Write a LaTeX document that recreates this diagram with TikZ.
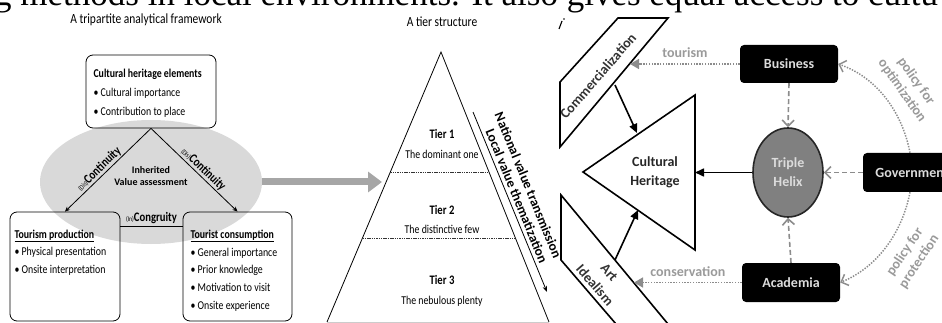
\documentclass[tikz,border=0pt]{standalone}
\usepackage{fontspec}
\setmainfont{Carlito}
\newfontfamily\narrowfont[FakeStretch=0.82]{Carlito}
\newfontfamily\pageserif{Liberation Serif}
\usetikzlibrary{arrows.meta,shapes.geometric,calc}

\definecolor{ellgrey}{HTML}{D9D9D9}
\definecolor{bigarrow}{HTML}{A6A6A6}
\definecolor{linkgrey}{HTML}{8C8C8C}
\definecolor{helixgrey}{HTML}{808080}
\definecolor{labelgrey}{HTML}{9A9A9A}
\definecolor{boxtext}{HTML}{DCDCDC}

\begin{document}
\begin{tikzpicture}[x=1pt,y=-1pt,
  rbox/.style={draw, rounded corners=7pt, line width=0.8pt, inner sep=0pt},
  nf/.style={font=\narrowfont\fontsize{12}{#1}\selectfont},
  nf/.default=18,
  thinarrow/.style={line width=0.8pt, -{Stealth[length=5pt,width=4.5pt]}},
  tierdash/.style={line width=0.7pt, dash pattern=on 1.5pt off 0.8pt, black!80},
  shapeline/.style={line width=1.6pt},
  blackarrow/.style={line width=1.6pt, -{Triangle[length=9pt,width=8pt]}},
  dashlink/.style={linkgrey, line width=1.6pt, dash pattern=on 5pt off 3pt, -{Straight Barb[length=6pt,width=12pt]}},
  dotlink/.style={linkgrey, line width=1.5pt, dash pattern=on 1.4pt off 1.4pt},
  actor/.style={fill=black, rounded corners=4pt, inner sep=0pt, font=\bfseries\fontsize{14}{14}\selectfont, text=boxtext},
  greylabel/.style={text=labelgrey, font=\bfseries\fontsize{14}{17}\selectfont, align=center},
  slantlabel/.style={font=\bfseries\fontsize{13.5}{13.5}\selectfont, inner sep=0pt, rotate=-67.65},
]
\useasboundingbox (0,0) rectangle (942,323);
\clip (0,0) rectangle (942,323);

% running text of the page above the figure
\node[anchor=base west, inner sep=0pt, font=\pageserif\fontsize{35}{35}\selectfont] (pagetext) at (-6,6)
  {g methods in local environments. It also gives equal access to cultu};

% ---------------- tripartite framework ----------------
\node[font=\narrowfont\fontsize{14}{14}\selectfont] (lefttitle) at (146,20) {A tripartite analytical framework};

\node[ellipse, fill=ellgrey, minimum width=222pt, minimum height=124pt, inner sep=0pt] (ell) at (151,182) {};

\node[rbox, minimum width=130pt, minimum height=73pt] (che) at (151,91.5) {};
\node[rbox, minimum width=110pt, minimum height=109pt] (tp) at (65,266.5) {};
\node[rbox, minimum width=109pt, minimum height=109pt] (tc) at (237.5,266.5) {};

\node[nf=19, anchor=west, align=left] (chetext) at (90,93)
  {\textbf{Cultural heritage elements}\\• Cultural importance\\• Contribution to place};
\node[nf=17.5, anchor=west, align=left] (tptext) at (11,252.5)
  {\underline{\textbf{Tourism production}}\\• Physical presentation\\• Onsite interpretation};
\node[nf=17.7, anchor=west, align=left] (tctext) at (187,270.5)
  {\underline{\textbf{Tourist consumption}}\\• General importance\\• Prior knowledge\\• Motivation to visit\\• Onsite experience};

\node[nf=17, font=\bfseries, align=center] (inherit) at (151,176.5) {Inherited\\Value assessment};

\draw[thinarrow] (che.south) -- (tp.north)
  node[pos=0.55, sloped, above=0pt, nf, inner sep=1pt] {{\fontsize{7}{7}\selectfont(Dis)}\textbf{\fontsize{13}{13}\selectfont Continuity}};
\draw[thinarrow] (che.south) -- (tc.north)
  node[pos=0.55, sloped, above=0pt, nf, inner sep=1pt] {{\fontsize{7}{7}\selectfont(Dis)}\textbf{\fontsize{13}{13}\selectfont Continuity}};
\draw[line width=0.8pt] ([yshift=-15pt]tp.north east) -- ([yshift=-15pt]tc.north west)
  node[midway, above=1pt, nf, inner sep=1pt] {{\fontsize{7}{7}\selectfont(In)}\textbf{\fontsize{13}{13}\selectfont Congruity}};

% ---------------- tier structure ----------------
\node[font=\narrowfont\fontsize{14}{14}\selectfont] (midtitle) at (442,22) {A tier structure};

\coordinate (apex) at (441,52);
\coordinate (bl) at (327,322);
\coordinate (br) at (549,322);
\draw[line width=0.8pt] (bl) -- (apex) -- (br);
\draw[black!20, line width=0.8pt] (bl) -- (br);
\draw[tierdash] ($(apex)!0.4444!(bl)$) -- ($(apex)!0.4444!(br)$);
\draw[tierdash] ($(apex)!0.6889!(bl)$) -- ($(apex)!0.6889!(br)$);

\node[nf=19.5, align=center] (tier1) at (442,144) {\textbf{\fontsize{13}{13}\selectfont Tier 1}\\The dominant one};
\node[nf=19.5, align=center] (tier2) at (442,219.5) {\textbf{\fontsize{13}{13}\selectfont Tier 2}\\The distinctive few};
\node[nf=19.5, align=center] (tier3) at (442,291) {\textbf{\fontsize{13}{13}\selectfont Tier 3}\\The nebulous plenty};

\draw[bigarrow, line width=7pt, -{Triangle[length=14pt,width=20pt]}] (ell.east) -- (382,182);

\coordinate (sa) at (473,112);
\coordinate (sb) at (547,292);
\draw[line width=0.8pt, -{Stealth[length=6pt,width=4.5pt]}] (sa) -- (sb);
\node[slantlabel] (natval) at (528.3,185.1) {National value transmission};
\node[slantlabel] (locval) at (516.8,195.9) {Local value thematization};

% ---------------- triple helix ----------------
\draw[line width=1.1pt] (562,21) -- (559,29);
\fill (564,19) circle (0.9pt);

\coordinate (ca) at (618,18);
\coordinate (cb) at (668,18);
\coordinate (cc) at (560,147);
\coordinate (cd) at (560,82);
\draw[shapeline, line join=miter] (ca) -- (cb) -- (cc) -- (cd) -- cycle;
\node[rotate=49, font=\bfseries\fontsize{14}{14}\selectfont, text=black!80] (comm) at (598,76) {Commercialization};

\coordinate (aa) at (561,195);
\coordinate (ab) at (561,260);
\coordinate (ac) at (616,324);
\coordinate (ad) at (668,324);
\draw[shapeline] (ac) -- (ab) -- (aa) -- (ad);
\node[rotate=-49, align=center, font=\bfseries\fontsize{14}{19}\selectfont, text=black!80] (art) at (602,279) {Art\\Idealism};

\coordinate (ht) at (695,95);
\coordinate (hl) at (583,172);
\coordinate (hb) at (695,250);
\draw[shapeline, line join=miter] (ht) -- (hl) -- (hb) -- cycle;
\node[align=center, font=\bfseries\fontsize{14}{19}\selectfont, text=black!85] (ch) at (655,172.5) {Cultural\\Heritage};

\node[ellipse, draw=black!85, line width=1.6pt, fill=helixgrey, minimum width=70pt, minimum height=89pt, inner sep=0pt,
      align=center, font=\bfseries\fontsize{14}{19}\selectfont, text=boxtext] (helix) at (788,172.5) {Triple\\Helix};

\node[actor, minimum width=98pt, minimum height=38pt] (bus) at (789,64) {Business};
\node[actor, minimum width=98pt, minimum height=39pt] (acad) at (791,282.5) {Academia};
\node[actor, minimum width=98pt, minimum height=39pt] (gov) at (912,172.5) {Government};

\coordinate (commin) at (615,85);
\coordinate (chtop) at (637,133);
\coordinate (artout) at (615,260);
\coordinate (chbot) at (638,210);
\coordinate (chright) at (695,172.5);
\draw[blackarrow] (commin) -- (chtop);
\draw[blackarrow] (artout) -- (chbot);
\draw[blackarrow] (helix.west) -- (chright);

\draw[dashlink] (bus.south) -- (helix.north);
\draw[dashlink] (acad.north) -- (helix.south);
\draw[dashlink] (gov.west) -- (helix.east);

\draw[dotlink, -{Straight Barb[length=6pt,width=12pt]}]
  ([xshift=-2pt]gov.north) .. controls (902,111) and (876,77) .. (bus.east);
\draw[dotlink, -{Straight Barb[length=6pt,width=12pt]}]
  ([xshift=-2pt]gov.south) .. controls (902,234) and (876,268) .. (acad.east);

\coordinate (tourend) at (630,64);
\coordinate (consend) at (634,282.5);
\draw[dotlink, -{Triangle[length=9pt,width=10pt]}] (bus.west) -- (tourend)
  node[midway, above=2pt, greylabel] {tourism};
\draw[dotlink, -{Triangle[length=9pt,width=10pt]}] (acad.west) -- (consend)
  node[midway, above=2pt, greylabel] {conservation};

\node[greylabel, rotate=-55] (optim) at (909,86) {policy for\\optimization};
\node[greylabel, rotate=56] (protect) at (912,257) {policy for\\protection};

\end{tikzpicture}
\end{document}
